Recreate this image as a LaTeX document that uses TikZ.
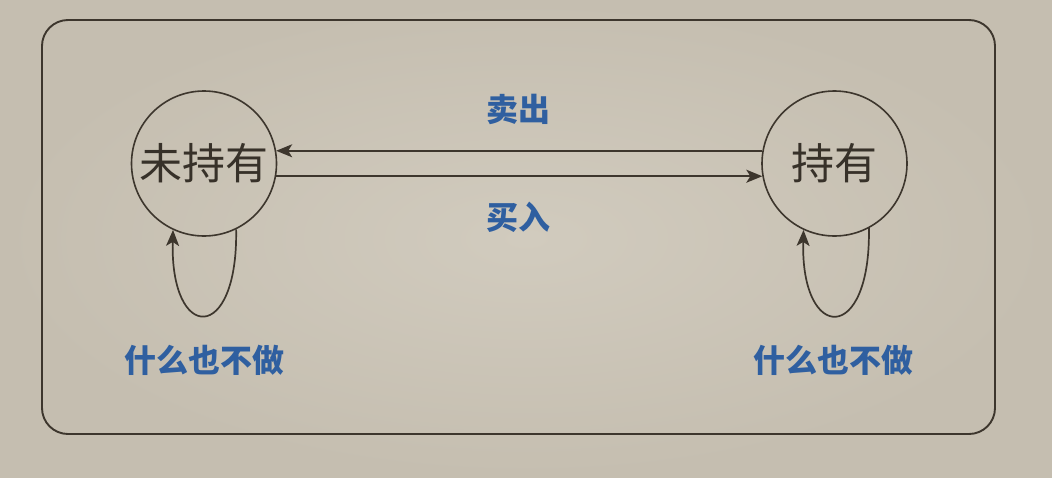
\documentclass[tikz,border=0pt]{standalone}
\usepackage{fontspec}
\newfontfamily\cjk{Noto Sans CJK SC}
\usetikzlibrary{arrows.meta}
\definecolor{bgin}{HTML}{D1CBBE}
\definecolor{bgout}{HTML}{C5BEB0}
\definecolor{ink}{HTML}{3D362D}
\definecolor{lblue}{HTML}{2F5FA0}
\tikzset{
  state/.style={circle, draw=ink, line width=1.6pt, minimum size=145pt, inner sep=0pt,
    font=\cjk\fontsize{43}{43}\selectfont, text=ink!90!black},
  lbl/.style={font=\cjk\bfseries\fontsize{32}{32}\selectfont, text=lblue, inner sep=0pt},
  conn/.style={draw=ink, line width=1.7pt, -{Stealth[length=16pt,width=13pt,inset=4pt]}},
}
\begin{document}
\begin{tikzpicture}[x=1pt,y=-1pt]
\useasboundingbox (0,0) rectangle (1052,477);
\shade[inner color=bgin, outer color=bgout] (0,0) rectangle (1052,477);
\draw[ink, line width=1.9pt, rounded corners=26pt] (42,20) rectangle (995,434);
\node[state] (L) at (204,163.5) {未持有};
\node[state] (R) at (834.5,163.5) {持有};
\draw[conn] (R.170) -- (L.10);
\draw[conn] (L.-10) -- (R.190);
\draw[conn] (L.-64) .. controls +(2,115) and +(-3,113) .. (L.-115);
\draw[conn] (R.-62) .. controls +(2,117) and +(-3,113) .. (R.-115);
\node[lbl] (sell) at (518,109) {卖出};
\node[lbl] (buy) at (518,217) {买入};
\node[lbl] (idleL) at (204,360) {什么也不做};
\node[lbl] (idleR) at (833,360) {什么也不做};
\end{tikzpicture}
\end{document}
